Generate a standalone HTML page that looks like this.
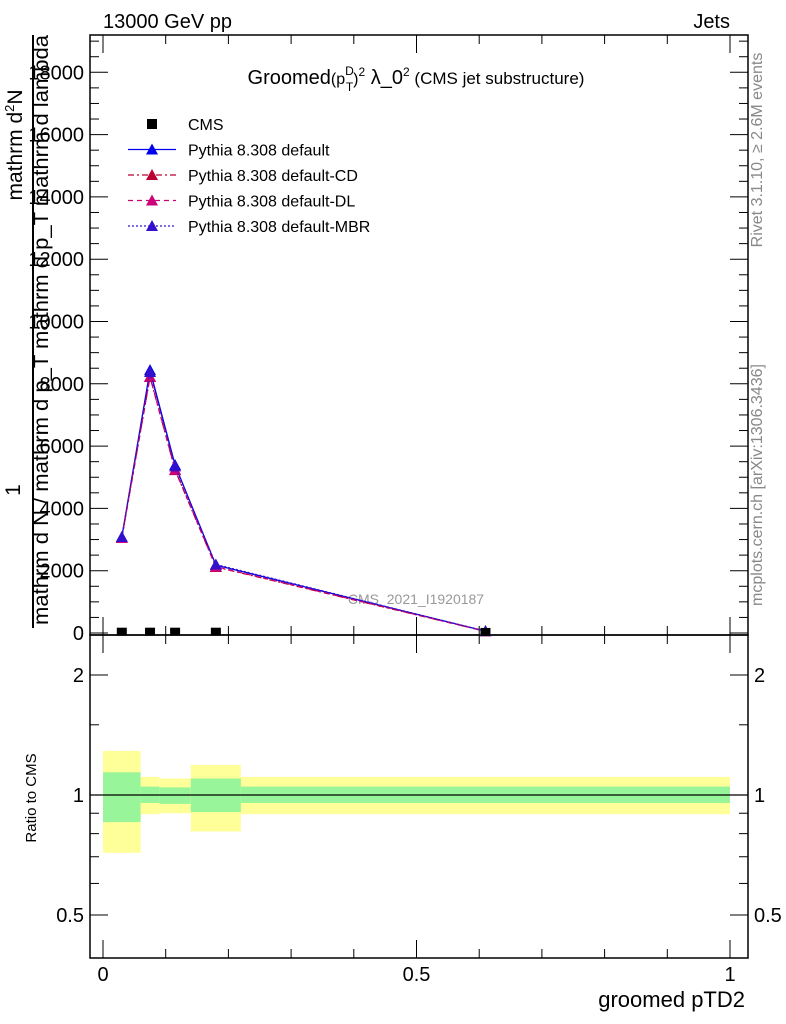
<!DOCTYPE html>
<html><head><meta charset="utf-8"><style>
html,body{margin:0;padding:0;background:#fff;}
svg{display:block;font-family:"Liberation Sans",sans-serif;}
</style></head><body>
<svg id="c" width="786" height="1024" viewBox="0 0 786 1024" xmlns="http://www.w3.org/2000/svg">
<text x="103" y="28" font-size="20">13000 GeV pp</text>
<text x="730" y="28" font-size="20" text-anchor="end">Jets</text>
<text x="416" y="84" font-size="20" text-anchor="middle">Groomed<tspan font-size="16">(p</tspan><tspan font-size="12" dy="-9">D</tspan><tspan font-size="12" dx="-8" dy="16">T</tspan><tspan font-size="16" dy="-7">)</tspan><tspan font-size="12" dy="-8">2</tspan><tspan dy="8"> λ_0</tspan><tspan font-size="12" dy="-8">2</tspan><tspan dy="8" font-size="17"> (CMS jet substructure)</tspan></text>
<text transform="translate(762,150) rotate(-90)" font-size="16" fill="#888" text-anchor="middle">Rivet 3.1.10, ≥ 2.6M events</text>
<text transform="translate(762,485) rotate(-90)" font-size="16" fill="#888" text-anchor="middle">mcplots.cern.ch [arXiv:1306.3436]</text>
<text x="416" y="604" font-size="14" fill="#999" text-anchor="middle">CMS_2021_I1920187</text>
<g font-size="21">
<text transform="translate(20,490) rotate(-90)" text-anchor="middle">1</text>
<line x1="33" y1="628" x2="33" y2="35" stroke="#000" stroke-width="2"/>
<text transform="translate(22,145) rotate(-90)" text-anchor="middle">mathrm d<tspan font-size="13" dy="-8">2</tspan><tspan dy="8">N</tspan></text>
<text transform="translate(48,625) rotate(-90)" textLength="590" lengthAdjust="spacingAndGlyphs">mathrm d N / mathrm d p_T mathrm d p_T mathrm d lambda</text>
</g>
<text x="745" y="1007" font-size="22" text-anchor="end">groomed pTD2</text>
<text transform="translate(36,798) rotate(-90)" font-size="15" text-anchor="middle">Ratio to CMS</text>
<g id="g"></g>
</svg>
<script>
const xVals=[0.03,0.075,0.115,0.18,0.61];
const cmsVals=[10,10,10,10,2];
const defVals=[3080,8440,5390,2180,60];
const cdVals=[3050,8220,5230,2120,55];
const dlVals=[3050,8230,5240,2130,55];
const mbrVals=[3080,8380,5350,2200,60];
const yTicks=[0,2000,4000,6000,8000,10000,12000,14000,16000,18000];
const xTicks=[0,0.5,1];
const binEdges=[0,0.06,0.09,0.14,0.22,1.0];
const yelLo=[0.716,0.895,0.9,0.81,0.895];
const yelHi=[1.29,1.11,1.10,1.19,1.11];
const grnLo=[0.855,0.955,0.95,0.906,0.955];
const grnHi=[1.14,1.05,1.045,1.10,1.05];
const rTicks=[0.5,1,2];
const NS="http://www.w3.org/2000/svg";
const g=document.getElementById('g');
const L=90,R=748,T=35,M=635,B=958;
const X=v=>103+v*627;
const Y=v=>633-v/2000*62.3;
const RY=v=>795-Math.log2(v)*120;
function el(t,a,p){const e=document.createElementNS(NS,t);for(const k in a)e.setAttribute(k,a[k]);(p||g).appendChild(e);return e;}
for(let i=0;i<yelLo.length;i++){
 const b=el('rect',{x:X(binEdges[i]),y:RY(yelHi[i]),width:X(binEdges[i+1])-X(binEdges[i]),height:RY(yelLo[i])-RY(yelHi[i]),fill:'#ffff99'});
 
 
 const c=el('rect',{x:X(binEdges[i]),y:RY(grnHi[i]),width:X(binEdges[i+1])-X(binEdges[i]),height:RY(grnLo[i])-RY(grnHi[i]),fill:'#99f599'});
 
 
}
el('line',{x1:L,x2:R,y1:RY(1),y2:RY(1),stroke:'#000','stroke-width':1.3});
el('rect',{x:L,y:T,width:R-L,height:M-T,fill:'none',stroke:'#000','stroke-width':1.5});
el('rect',{x:L,y:M,width:R-L,height:B-M,fill:'none',stroke:'#000','stroke-width':1.5});
for(let v=0;v<=19000;v+=500){const y=Y(v);if(y<T)continue;const big=v%2000===0;
 el('line',{x1:L,x2:L+(big?18:9),y1:y,y2:y,stroke:'#000'});el('line',{x1:R,x2:R-(big?18:9),y1:y,y2:y,stroke:'#000'});}
yTicks.forEach(v=>{const t=el('text',{x:84,y:Y(v)+7,'font-size':20,'text-anchor':'end'});t.textContent=v;
 
 });
for(let v=0;v<=1.0001;v+=0.1){const x=X(v);const big=Math.abs(v*2-Math.round(v*2))<1e-6;
 el('line',{x1:x,x2:x,y1:M,y2:M-(big?18:9),stroke:'#000'});
 el('line',{x1:x,x2:x,y1:T,y2:T+(big?18:9),stroke:'#000'});
 el('line',{x1:x,x2:x,y1:B,y2:B-(big?18:9),stroke:'#000'});
 el('line',{x1:x,x2:x,y1:M,y2:M+(big?18:9),stroke:'#000'});}
xTicks.forEach(v=>{const t=el('text',{x:X(v),y:981,'font-size':20,'text-anchor':'middle'});t.textContent=v;
 
 });
[0.5,0.6,0.7,0.8,0.9,1,1.5,2].forEach(v=>{const y=RY(v);const big=rTicks.includes(v);
 el('line',{x1:L,x2:L+(big?18:9),y1:y,y2:y,stroke:'#000'});el('line',{x1:R,x2:R-(big?18:9),y1:y,y2:y,stroke:'#000'});});
rTicks.forEach(v=>{[[84,'end'],[754,'start']].forEach(([x,a])=>{const t=el('text',{x:x,y:RY(v)+7,'font-size':20,'text-anchor':a});t.textContent=v;
 
 });});
function tri(x,y,c,p){return el('path',{d:`M${x-6},${y+5}L${x+6},${y+5}L${x},${y-6}Z`,fill:c},p);}
const series=[[defVals,'#0000ee','','series-default'],[cdVals,'#bb0033','6,3,2,3','series-default-cd'],[dlVals,'#cc0077','5,4','series-default-dl'],[mbrVals,'#3311cc','2,2','series-default-mbr']];
series.forEach(([vals,c,d,n])=>{const s=el('g',{});
 
 
 el('polyline',{points:xVals.map((x,i)=>X(x)+','+Y(vals[i])).join(' '),fill:'none',stroke:c,'stroke-width':1.3,'stroke-dasharray':d},s);
 xVals.forEach((x,i)=>tri(X(x),Y(vals[i]),c,s));});
xVals.forEach((x,i)=>{const r=el('rect',{x:X(x)-5,y:Y(cmsVals[i])-5,width:10,height:8,fill:'#000'});
 
 });
const leg=el('g',{});


el('rect',{x:147,y:119,width:10,height:10,fill:'#000'},leg);
const lt=[['CMS'],['Pythia 8.308 default','#0000ee',''],['Pythia 8.308 default-CD','#bb0033','6,3,2,3'],['Pythia 8.308 default-DL','#cc0077','5,4'],['Pythia 8.308 default-MBR','#3311cc','2,2']];
lt.forEach((e,i)=>{const y=124+i*25.5;
 if(i>0){el('line',{x1:128,x2:176,y1:y,y2:y,stroke:e[1],'stroke-width':1.3,'stroke-dasharray':e[2]},leg);tri(152,y,e[1],leg);}
 const t=el('text',{x:188,y:y+6,'font-size':16},leg);t.textContent=e[0];});
</script>
</body></html>
